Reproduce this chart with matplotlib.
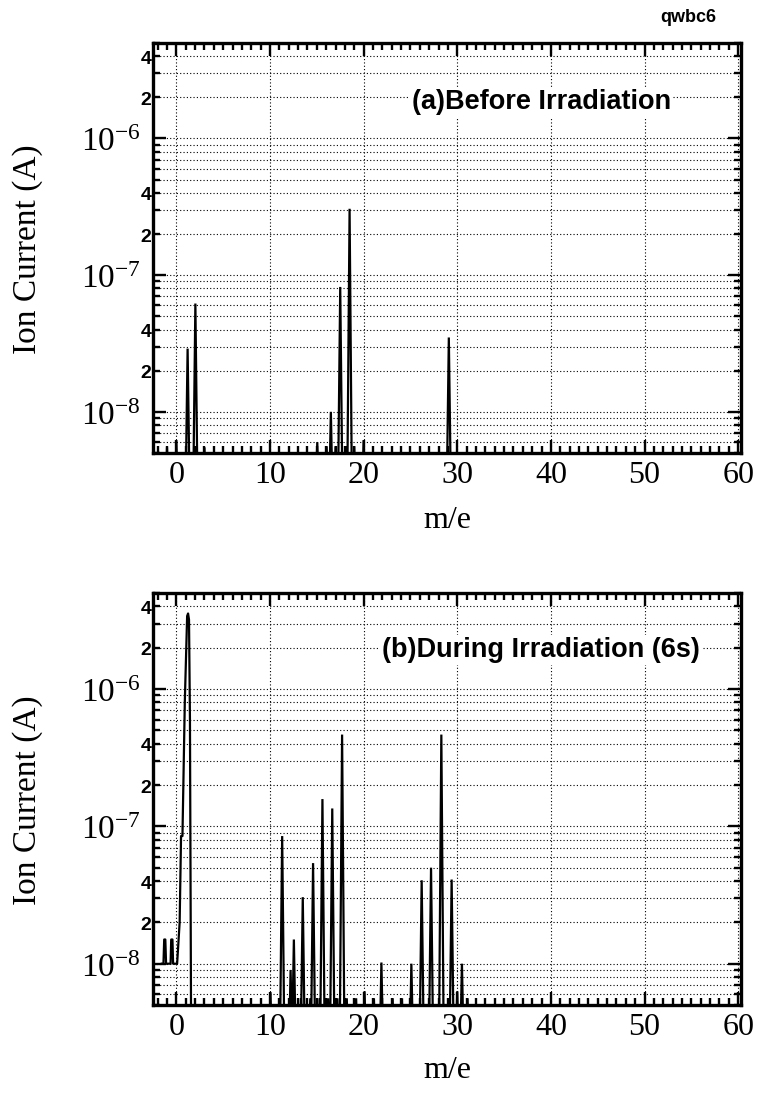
import numpy as np
import matplotlib
matplotlib.use('Agg')
import matplotlib.pyplot as plt
from matplotlib.ticker import LogLocator, FuncFormatter, MultipleLocator

plt.rcParams['mathtext.fontset'] = 'custom'
plt.rcParams['mathtext.rm'] = 'Liberation Serif'
plt.rcParams['mathtext.it'] = 'Liberation Serif:italic'
plt.rcParams['mathtext.bf'] = 'Liberation Sans:bold'

# ---------------- data ----------------
# (a) Before irradiation: peak positions (m/e) and peak ion currents (A)
a_peak_mz = [-1.0, 0.0, 1.2, 2.03, 3.0, 15.05, 16.05, 16.5, 17.0, 17.5,
             18.07, 18.5, 19.0, 20.0, 29.1]
a_peak_current = [5.5e-9, 6.2e-9, 2.9e-8, 6.2e-8, 5.5e-9, 6.0e-9, 5.6e-9, 1.0e-8,
                  5.6e-9, 8.2e-8, 5.6e-9, 3.06e-7, 5.6e-9, 6.2e-9, 3.5e-8]

# (b) During irradiation (6 s): low-mass trace
b_low_mz = [-1.55, -1.38, -1.30, -1.18, -1.10, -0.62, -0.55, -0.42, -0.35, 0.08,
            0.35, 0.50, 0.65, 0.90, 1.15, 1.25, 1.35, 1.45, 1.60]
b_low_current = [1.0e-8, 1.0e-8, 1.5e-8, 1.5e-8, 1.0e-8, 1.0e-8, 1.5e-8, 1.5e-8,
                 1.0e-8, 1.0e-8, 2.0e-8, 8.5e-8, 8.5e-8, 8.0e-7, 3.4e-6, 3.55e-6,
                 3.2e-6, 6.0e-7, 1.0e-9]
# (b) peaks
b_peak_mz = [10.05, 11.3, 12.2, 12.55, 13.3, 13.5, 14.3, 14.6, 15.3, 15.6, 16.2,
             16.65, 17.2, 17.7, 18.2, 19.2, 20.1, 21.1, 21.9, 23.1, 24.1, 25.1,
             26.2, 27.2, 28.3, 29.4, 30.0, 30.5, 31.1]
b_peak_current = [6.2e-9, 8.5e-8, 9.0e-9, 1.5e-8, 5.6e-9, 3.05e-8, 5.6e-9, 5.4e-8,
                  5.6e-9, 1.58e-7, 5.6e-9, 1.35e-7, 5.6e-9, 4.66e-7, 5.6e-9, 5.6e-9,
                  6.3e-9, 5.6e-9, 1.02e-8, 5.6e-9, 5.6e-9, 1.0e-8, 4.05e-8, 5.0e-8,
                  4.66e-7, 4.1e-8, 6.3e-9, 1.0e-8, 5.6e-9]

x_ticks = [0, 10, 20, 30, 40, 50, 60]
x_range = (-2.5, 60.3)
y_range = (5e-9, 5e-6)
panel_labels = ['(a)Before Irradiation', '(b)During Irradiation (6s)']
baseline = 1e-9  # below the visible range (trace drops off the axis)
halfwidth = 0.3


def peak_trace(centers, heights):
    xs, ys = [], []
    for c, h in zip(centers, heights):
        xs += [c - halfwidth, c, c + halfwidth, np.nan]
        ys += [baseline, h, baseline, np.nan]
    return xs, ys


def major_fmt(v, pos):
    e = int(round(np.log10(v)))
    return r'$10^{%d}$' % e


def minor_fmt(v, pos):
    e = np.floor(np.log10(v) + 1e-9)
    m = int(round(v / 10 ** e))
    if m in (2, 4):
        return r'$\mathbf{%d}$' % m
    return ''


fig = plt.figure(figsize=(7.58, 10.96), dpi=100)
ax_a = fig.add_axes([0.2018, 0.5867, 0.7757, 0.3741])
ax_b = fig.add_axes([0.2018, 0.0830, 0.7757, 0.3759])

grid_kw = dict(color='black', linestyle=(0, (1, 2)), linewidth=0.8)

for ax, lab, xtxt, ytxt in [(ax_a, panel_labels[0], 0.4405, 0.856),
                            (ax_b, panel_labels[1], 0.3895, 0.862)]:
    ax.set_yscale('log')
    ax.set_xlim(*x_range)
    ax.set_ylim(*y_range)
    ax.set_xticks(x_ticks)
    ax.xaxis.set_minor_locator(MultipleLocator(1))
    ax.yaxis.set_major_locator(LogLocator(base=10, numticks=20))
    ax.yaxis.set_minor_locator(LogLocator(base=10, subs=np.arange(2, 10), numticks=20))
    ax.yaxis.set_major_formatter(FuncFormatter(major_fmt))
    ax.yaxis.set_minor_formatter(FuncFormatter(minor_fmt))
    ax.tick_params(which='both', direction='in', top=True, right=True, width=1.7,
                   color='black')
    ax.tick_params(which='major', length=9.5)
    ax.tick_params(which='minor', length=5)
    ax.tick_params(axis='x', which='major', labelsize=23, pad=6,
                   labelfontfamily='Liberation Serif')
    ax.tick_params(axis='y', which='major', labelsize=24, pad=9)
    ax.tick_params(axis='y', which='minor', labelsize=14, pad=0.5)
    for s in ax.spines.values():
        s.set_linewidth(2.4)
    ax.grid(True, which='major', axis='x', **grid_kw)
    ax.grid(True, which='both', axis='y', **grid_kw)
    ax.text(xtxt, ytxt, lab, transform=ax.transAxes,
            ha='left', va='center', fontsize=19.5, fontweight='bold',
            family='Liberation Sans', zorder=5,
            bbox=dict(facecolor='white', edgecolor='none', pad=1.5))

xa, ya = peak_trace(a_peak_mz, a_peak_current)
ax_a.plot(xa, ya, color='black', linewidth=1.6, solid_joinstyle='miter')

xb, yb = peak_trace(b_peak_mz, b_peak_current)
ax_b.plot(b_low_mz, b_low_current, color='black', linewidth=1.6)
ax_b.plot(xb, yb, color='black', linewidth=1.6, solid_joinstyle='miter')

serif = 'Liberation Serif'
fig.text(28 / 758, 1 - 249 / 1096, 'Ion Current (A)', rotation=90, ha='center',
         va='center', fontsize=24, family=serif)
fig.text(28 / 758, 1 - 800 / 1096, 'Ion Current (A)', rotation=90, ha='center',
         va='center', fontsize=24, family=serif)
fig.text(447 / 758, 1 - 520 / 1096, 'm/e', ha='center', va='center', fontsize=23,
         family=serif)
fig.text(447 / 758, 1 - 1071 / 1096, 'm/e', ha='center', va='center', fontsize=23,
         family=serif)
fig.text(688 / 758, 1 - 17 / 1096, 'qwbc6', ha='center', va='center', fontsize=13,
         fontweight='bold', family='Liberation Sans')

fig.savefig('out.png', dpi=100)
